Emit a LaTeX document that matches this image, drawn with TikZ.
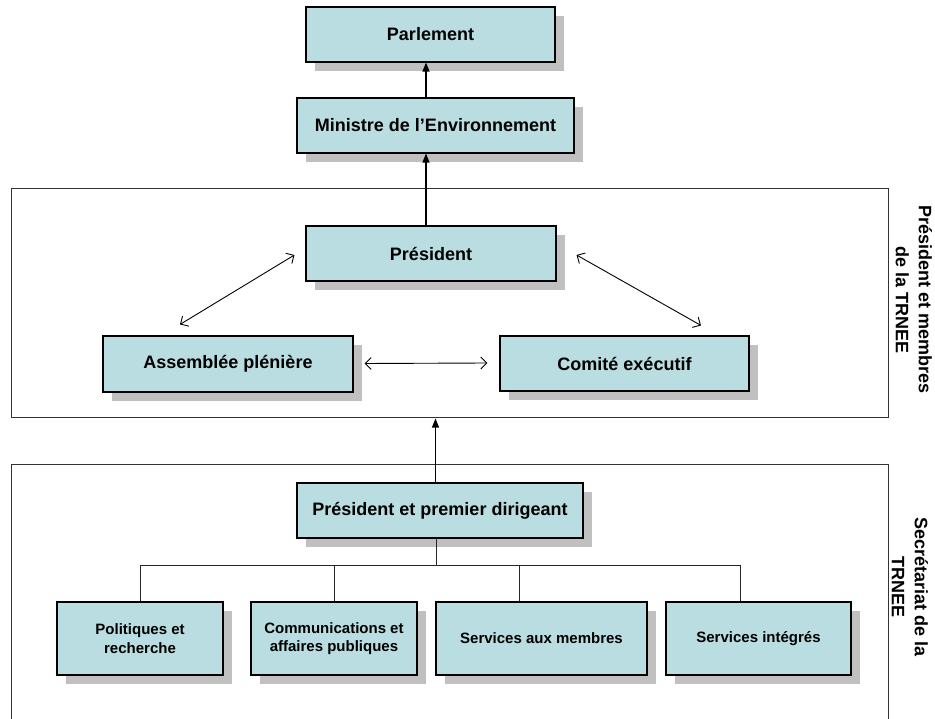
\documentclass[tikz,border=0pt]{standalone}
\usepackage{fontspec}
\setmainfont{Liberation Sans}
\usetikzlibrary{arrows.meta,shadows}
\definecolor{boxfill}{RGB}{185,221,224}
\definecolor{shadowgray}{RGB}{192,192,192}
\begin{document}
\begin{tikzpicture}[x=1pt,y=-1pt,
  orgbox/.style={draw=black, line width=1.1pt, fill=boxfill, inner sep=2pt, align=center,
    font=\bfseries\fontsize{18}{21}\selectfont,
    drop shadow={shadow xshift=9pt, shadow yshift=-9pt, fill=shadowgray, opacity=1}},
  smallbox/.style={orgbox, font=\bfseries\fontsize{15}{18.7}\selectfont, minimum height=73pt},
  frame/.style={draw=black!80, line width=1pt},
  sidelabel/.style={rotate=-90, align=center, font=\bfseries\fontsize{18}{23}\selectfont},
  uparrow/.style={line width=1.2pt, -{Triangle[length=9pt,width=7pt]}},
  twoway/.style={line width=0.9pt, {Straight Barb[length=6pt,width=12pt]}-{Straight Barb[length=6pt,width=12pt]}},
  treeline/.style={line width=1pt, draw=black!85}]
\useasboundingbox (0,0) rectangle (935,719);

% frames
\node[frame, minimum width=877pt, minimum height=229pt, inner sep=0pt] (b1) at (449.5,303.5) {};
\draw[frame] (11,719) -- (11,464) -- (888,464) -- (888,719);
\coordinate (b2top) at (440,464);

% boxes
\node[orgbox, minimum width=249pt, minimum height=55pt] (parl) at (430.5,34.5) {Parlement};
\node[orgbox, minimum width=277pt, minimum height=55pt] (min) at (435.5,125.5) {Ministre de l’Environnement};
\node[orgbox, minimum width=250pt, minimum height=55pt] (pres) at (431,253.5) {Président};
\node[orgbox, minimum width=250pt, minimum height=56pt] (asm) at (228,364) {Assemblée plénière};
\node[orgbox, minimum width=249pt, minimum height=55pt] (com) at (624.5,363.5) {Comité exécutif};
\node[orgbox, minimum width=286pt, minimum height=55pt] (ppd) at (440,510.5) {Président et premier dirigeant};
\node[smallbox, minimum width=166pt] (pol) at (140,638.5) {Politiques et\\recherche};
\node[smallbox, minimum width=166pt] (comm) at (334,638.5) {Communications et\\affaires publiques};
\node[smallbox, minimum width=211pt] (sam) at (541.5,638.5) {Services aux membres};
\node[smallbox, minimum width=185pt] (si) at (758.5,638.5) {Services intégrés};

% side labels
\node[sidelabel] (lab1) at (914,300) {Président et membres\\de la TRNEE};
\node[sidelabel] (lab2) at (910,587) {Secrétariat de la\\TRNEE};

% vertical arrows
\draw[uparrow] ([xshift=-9.5pt]min.north) -- ([xshift=-9.5pt]min.north |- parl.south);
\draw[uparrow] ([xshift=-5pt]pres.north) -- ([xshift=-5pt]pres.north |- min.south);
\draw[uparrow] ([xshift=-4.5pt]ppd.north) -- ([xshift=-4.5pt]ppd.north |- b1.south);

% two-way arrows
\draw[twoway] ([shift={(-48,-11)}]asm.north) -- ([shift={(-11,1.5)}]pres.west);
\draw[twoway] ([shift={(20,1.5)}]pres.east) -- ([shift={(76.5,-10)}]com.north);
\draw[twoway] ([shift={(11,-0.5)}]asm.east) -- ([shift={(-12,-0.5)}]com.west);

% tree
\coordinate (bus) at (436,565);
\draw[treeline] ([xshift=-4pt]ppd.south) -- (bus);
\draw[treeline] (pol.north) |- (bus);
\draw[treeline] (comm.north) |- (bus);
\draw[treeline] ([xshift=-22.5pt]sam.north) |- (bus);
\draw[treeline] ([xshift=-18.5pt]si.north) |- (bus);
\end{tikzpicture}
\end{document}
